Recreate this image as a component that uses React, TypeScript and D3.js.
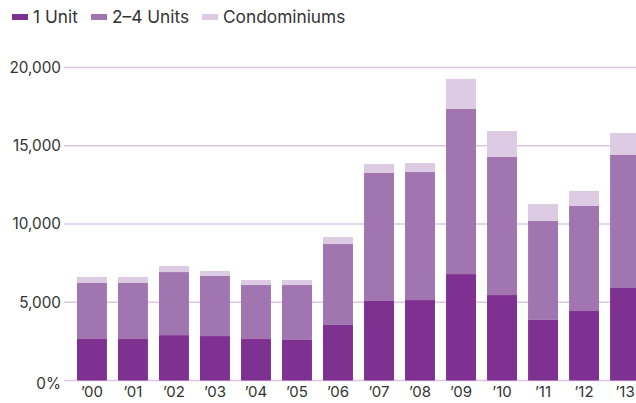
import React from "react";
import * as d3 from "d3";

const years = ["’00", "’01", "’02", "’03", "’04", "’05", "’06", "’07", "’08", "’09", "’10", "’11", "’12", "’13"];
const oneUnit = [2650, 2650, 2900, 2840, 2650, 2590, 3550, 5080, 5140, 6800, 5460, 3870, 4440, 5910];
const twoFourUnits = [3580, 3580, 4030, 3840, 3450, 3510, 5170, 8180, 8180, 10550, 8820, 6320, 6710, 8500];
const condominiums = [385, 385, 385, 320, 320, 320, 450, 575, 575, 1920, 1660, 1090, 960, 1410];
const seriesNames = ["1 Unit", "2–4 Units", "Condominiums"];
const yTicks = [0, 5000, 10000, 15000, 20000];

const colors = ["#7f3192", "#a175b0", "#dccbe3"];
const W = 636, H = 403;
const FONT = "Inter, sans-serif";

export default function App() {
  const rows = years.map((y, i) => ({ year: y, s0: oneUnit[i], s1: twoFourUnits[i], s2: condominiums[i] }));
  const stack = d3.stack<any>().keys(["s0", "s1", "s2"])(rows);

  const y = d3.scaleLinear().domain([0, 20000]).range([380.5, 67.5]);
  const x = d3.scaleBand<string>().domain(years).range([64, 653]).paddingInner(0.27).paddingOuter(0.317);

  const fmt = (v: number) => (v === 0 ? "0%" : d3.format(",")(v));
  const legendX = [12, 91, 202];

  return (
    <svg width={W} height={H} style={{ position: "absolute", left: 0, top: 0, fontFamily: FONT }}>
      <rect width={W} height={H} fill="#fff" />
      {yTicks.map((t) => (
        <g key={t}>
          <line x1={64} x2={W} y1={y(t)} y2={y(t)} stroke="#dcc7e3" strokeWidth={1.5} />
          <text x={61} y={y(t) + (t === 0 ? 3 : 0)} dy="0.35em" textAnchor="end" fontSize={15.3} fill="#333">
            {fmt(t)}
          </text>
        </g>
      ))}
      {stack.map((layer, li) => (
        <g key={li} fill={colors[li]}>
          {layer.map((d: any, i: number) => (
            <rect key={i} x={x(years[i])} width={x.bandwidth()} y={y(d[1])} height={y(d[0]) - y(d[1])} />
          ))}
        </g>
      ))}
      {years.map((yr) => (
        <text key={yr} x={(x(yr) as number) + x.bandwidth() / 2} y={397} textAnchor="middle" fontSize={15} fill="#333">
          {yr}
        </text>
      ))}
      {seriesNames.map((n, i) => (
        <g key={n}>
          <rect x={legendX[i]} y={14} width={16} height={6} fill={colors[i]} />
          <text x={legendX[i] + 21} y={23} fontSize={17.3} fill="#333">
            {n}
          </text>
        </g>
      ))}
    </svg>
  );
}
